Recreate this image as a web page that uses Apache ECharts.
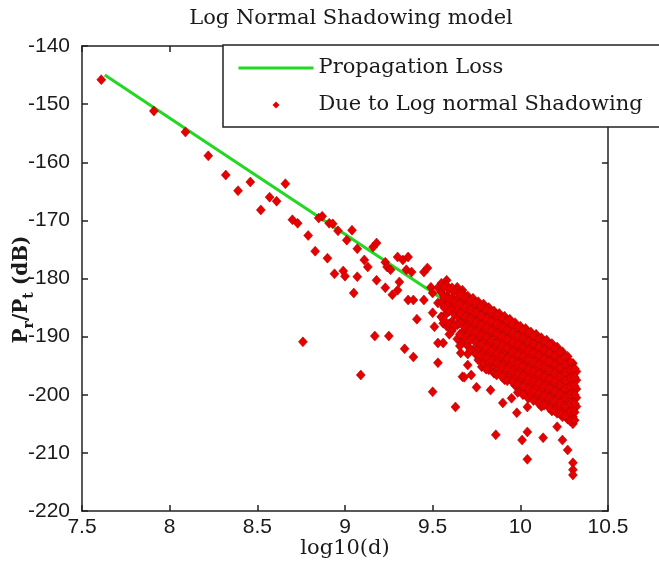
<!DOCTYPE html>
<html>
<head>
<meta charset="utf-8">
<script src="https://cdn.jsdelivr.net/npm/echarts/dist/echarts.min.js"></script>
<style>
  html, body { margin: 0; padding: 0; background: #ffffff; }
  #chart { width: 659px; height: 569px; }
</style>
</head>
<body>
<div id="chart"></div>
<script>
// Log-normal shadowing: received/transmitted power against log10(distance)

const chartTitle = 'Log Normal Shadowing model';
const lossName = 'Propagation Loss';
const shadowName = 'Due to Log normal Shadowing';

// Mean path loss line (log10(d), dB)
const lossX = [7.63, 8.1, 8.5, 9.0, 9.5, 10.0, 10.3];
const lossY = [-145.0, -154.4, -162.4, -172.4, -182.4, -192.4, -198.4];

// Sparse shadowed samples along the line
const sparsePoints = [
  [7.61,-145.8],[7.91,-151.2],[8.09,-154.8],[8.22,-158.9],[8.32,-162.2],[8.39,-164.9],
  [8.46,-163.4],[8.52,-168.2],[8.57,-166.0],[8.61,-166.7],[8.66,-163.7],[8.70,-169.9],
  [8.73,-170.5],[8.79,-172.6],[8.83,-175.3],[8.85,-169.6],[8.87,-169.3],[8.90,-176.5],
  [8.91,-170.5],[8.93,-170.6],[8.94,-179.2],[8.96,-171.8],[8.99,-178.7],[9.00,-179.6],
  [9.01,-173.4],[9.04,-171.7],[9.05,-182.5],[9.07,-174.9],[9.07,-179.7],[9.11,-176.8],
  [9.13,-178.0],[9.16,-174.6],[9.18,-173.9],[9.18,-180.3],[9.23,-177.2],[9.24,-178.0],
  [9.26,-178.5],[9.23,-181.6],[9.27,-182.8],[9.30,-182.0],[9.31,-180.6],[9.30,-176.3],
  [9.33,-176.8],[9.36,-176.3],[9.35,-178.5],[9.38,-178.9],[9.45,-178.9],[9.47,-178.2],
  [9.36,-183.7],[9.39,-183.7],[9.49,-181.5],[9.50,-182.5],[9.53,-181.6],[9.58,-180.3],
  [9.45,-183.7],[9.50,-185.9],[9.41,-187.0],[9.58,-183.7],[9.60,-184.9],[9.62,-185.4],
  [9.55,-186.6],[9.67,-182.0],[9.64,-181.5],[9.53,-191.1],[9.56,-191.1],[9.67,-190.1],
  [9.66,-192.8],[9.67,-196.9],[9.51,-188.3],[9.56,-187.7],[9.53,-184.2]
];

// Deep fades below the line
const fadePoints = [
  [8.76,-190.9],[9.09,-196.6],[9.17,-189.9],[9.25,-189.9],[9.34,-192.1],[9.39,-193.5],
  [9.53,-194.5],[9.50,-199.5],[9.63,-202.1],[9.68,-197.0],[9.75,-198.7],[9.83,-199.2],
  [9.90,-201.4],[9.98,-203.1],[9.86,-206.9],[10.01,-207.8],[10.04,-206.4],[10.13,-207.4],
  [10.04,-211.1],[10.21,-205.5],[10.24,-207.8],[10.27,-209.5],[10.30,-211.7],[10.30,-212.9],
  [10.30,-213.8],[9.70,-194.9],[9.72,-196.6],[9.78,-195.2],[9.82,-195.7],[9.95,-200.6],
  [10.04,-202.1]
];

// Dense cluster at long range: one column of readings per log10(d) value
const clusterX = [9.55, 9.58, 9.61, 9.64, 9.67, 9.70, 9.73, 9.76, 9.79, 9.82, 9.85, 9.88,
  9.91, 9.94, 9.97, 10.00, 10.03, 10.06, 10.09, 10.12, 10.15, 10.18, 10.21, 10.24, 10.27,
  10.30, 10.32];
const clusterY = [
  [-180.8, -182.4, -184.1, -186.6],
  [-181.2, -183.0, -184.8, -186.0, -188.2],
  [-181.6, -183.3, -185.2, -187.4, -189.0],
  [-182.0, -183.6, -185.0, -186.5, -188.0, -190.4],
  [-182.6, -184.2, -185.8, -187.3, -189.2, -191.0],
  [-183.0, -184.6, -186.3, -187.9, -189.5, -191.6, -193.0],
  [-183.4, -185.1, -186.7, -188.4, -190.0, -192.3],
  [-184.0, -185.5, -187.2, -188.8, -190.6, -192.0, -194.0],
  [-184.4, -186.0, -187.6, -189.3, -190.9, -192.6, -194.5],
  [-185.0, -186.5, -188.0, -189.6, -191.3, -193.0, -195.2],
  [-185.6, -187.0, -188.6, -190.2, -191.8, -193.5, -195.0, -196.3],
  [-186.0, -187.6, -189.2, -190.8, -192.4, -194.0, -195.8],
  [-186.5, -188.0, -189.6, -191.2, -192.8, -194.4, -196.2, -197.4],
  [-187.0, -188.5, -190.1, -191.7, -193.3, -195.0, -196.6],
  [-187.6, -189.0, -190.6, -192.2, -193.8, -195.4, -197.0, -198.4],
  [-188.2, -189.6, -191.1, -192.7, -194.3, -195.9, -197.5, -199.0],
  [-188.6, -190.0, -191.6, -193.1, -194.7, -196.3, -197.9, -199.5],
  [-189.2, -190.6, -192.1, -193.6, -195.2, -196.8, -198.4, -200.0],
  [-189.6, -191.0, -192.5, -194.0, -195.6, -197.2, -198.8, -200.4],
  [-190.2, -191.5, -193.0, -194.5, -196.0, -197.6, -199.2, -200.8, -202.0],
  [-190.6, -192.0, -193.4, -195.0, -196.5, -198.0, -199.6, -201.2],
  [-191.2, -192.5, -193.9, -195.4, -196.9, -198.5, -200.0, -201.6, -202.8],
  [-191.8, -193.0, -194.4, -195.9, -197.4, -198.9, -200.5, -202.0, -203.2],
  [-192.6, -193.8, -195.0, -196.4, -197.8, -199.3, -200.9, -202.4, -203.8],
  [-193.4, -194.6, -195.8, -197.0, -198.4, -199.8, -201.3, -202.8, -204.2],
  [-194.6, -195.8, -197.0, -198.3, -199.6, -201.0, -202.4, -203.8, -205.0],
  [-196.0, -197.5, -199.0, -200.5, -202.0]
];

// Second pass of cluster readings, between the columns above
const clusterX2 = [9.565, 9.595, 9.625, 9.655, 9.685, 9.715, 9.745, 9.775, 9.805, 9.835,
  9.865, 9.895, 9.925, 9.955, 9.985, 10.015, 10.045, 10.075, 10.105, 10.135, 10.165,
  10.195, 10.225, 10.255, 10.285, 10.31];
const clusterY2 = [
  [-181.5, -183.2, -185.0, -187.2],
  [-181.9, -183.6, -185.6, -187.8, -189.6],
  [-182.3, -184.1, -186.2, -188.1],
  [-182.7, -184.4, -186.0, -187.7, -189.6, -191.6],
  [-183.3, -185.0, -186.6, -188.4, -190.2],
  [-183.8, -185.4, -187.0, -188.8, -190.6, -192.4],
  [-184.2, -185.9, -187.6, -189.2, -191.0, -193.0],
  [-184.8, -186.4, -188.0, -189.8, -191.4, -193.3],
  [-185.3, -186.9, -188.5, -190.1, -191.9, -193.7, -195.6],
  [-185.8, -187.4, -189.0, -190.7, -192.5, -194.2],
  [-186.3, -187.9, -189.5, -191.1, -192.9, -194.6, -196.6],
  [-186.8, -188.4, -190.0, -191.6, -193.4, -195.1, -196.9],
  [-187.3, -188.9, -190.5, -192.0, -193.8, -195.6, -197.6],
  [-187.9, -189.4, -191.0, -192.6, -194.2, -196.0, -197.8],
  [-188.4, -189.9, -191.5, -193.1, -194.7, -196.4, -198.2, -199.6],
  [-188.9, -190.3, -191.9, -193.5, -195.1, -196.8, -198.6, -200.0],
  [-189.4, -190.8, -192.4, -194.0, -195.6, -197.3, -199.0, -200.6],
  [-189.9, -191.3, -192.9, -194.4, -196.0, -197.7, -199.4, -201.0],
  [-190.4, -191.8, -193.3, -194.8, -196.4, -198.0, -199.8, -201.5],
  [-190.9, -192.3, -193.8, -195.3, -196.9, -198.5, -200.2, -201.8],
  [-191.4, -192.8, -194.3, -195.8, -197.3, -198.9, -200.6, -202.3],
  [-192.0, -193.3, -194.8, -196.3, -197.8, -199.4, -201.1, -202.7],
  [-192.7, -194.0, -195.4, -196.9, -198.3, -199.9, -201.5, -203.2],
  [-193.5, -194.8, -196.2, -197.6, -199.0, -200.4, -202.0, -203.6],
  [-194.4, -195.8, -197.2, -198.6, -200.0, -201.5, -203.0, -204.5],
  [-195.5, -197.0, -198.5, -200.0, -201.5, -203.0, -204.4]
];

const xRange = [7.5, 10.5];
const yRange = [-220, -140];

// Build the point table used by the scatter series
const clusterPoints = [];
clusterX.forEach((x, i) => clusterY[i].forEach(y => clusterPoints.push([x, y])));
clusterX2.forEach((x, i) => clusterY2[i].forEach(y => clusterPoints.push([x, y])));
const shadowData = sparsePoints.concat(fadePoints, clusterPoints);
const lossData = lossX.map((x, i) => [x, lossY[i]]);

const axisColor = '#222222';
const textColor = '#1a1a1a';
const labelFont = 'Liberation Sans';
const serifFont = 'DejaVu Serif';
const lossColor = '#22d822';
const shadowColor = '#e60000';

const boxAxis = (extra) => Object.assign({
  type: 'value',
  axisLine: { show: true, onZero: false, lineStyle: { color: axisColor, width: 1.5 } },
  axisTick: { show: true, inside: true, length: 6, lineStyle: { color: axisColor, width: 1.5 } },
  splitLine: { show: false }
}, extra);

const chart = echarts.init(document.getElementById('chart'), null, { renderer: 'canvas' });

chart.setOption({
  backgroundColor: '#ffffff',
  animation: false,
  title: {
    text: chartTitle,
    left: 346,
    top: 3,
    textAlign: 'center',
    textStyle: { fontFamily: serifFont, fontSize: 21, fontWeight: 'normal', color: textColor }
  },
  legend: {
    orient: 'vertical',
    left: 223,
    top: 45,
    padding: [12, 30, 11, 14],
    itemWidth: 75,
    itemHeight: 14,
    itemGap: 15,
    backgroundColor: '#ffffff',
    borderColor: axisColor,
    borderWidth: 1.5,
    borderRadius: 0,
    selectedMode: false,
    textStyle: { fontFamily: serifFont, fontSize: 21, color: textColor, lineHeight: 22 },
    data: [
      { name: lossName, itemStyle: { color: 'rgba(0,0,0,0)', borderColor: 'rgba(0,0,0,0)', borderWidth: 0 },
        lineStyle: { color: lossColor, width: 3 } },
      { name: shadowName, icon: 'path://M0,0M20,20M10,5L15,10L10,15L5,10Z',
        itemStyle: { color: shadowColor, borderWidth: 0 } }
    ]
  },
  grid: { left: 82, right: 51, top: 46, bottom: 58, containLabel: false, outerBoundsMode: 'none' },
  xAxis: [
    boxAxis({
      position: 'bottom',
      min: xRange[0], max: xRange[1], interval: 0.5,
      name: 'log10(d)',
      nameLocation: 'middle',
      nameGap: 27,
      nameMoveOverlap: false,
      nameTextStyle: { fontFamily: serifFont, fontSize: 21, color: textColor },
      axisLabel: { show: true, margin: 6, fontFamily: labelFont, fontSize: 21, color: textColor,
        showMinLabel: true, showMaxLabel: true, hideOverlap: false }
    }),
    boxAxis({ position: 'top', min: xRange[0], max: xRange[1], interval: 0.5, axisLabel: { show: false } })
  ],
  yAxis: [
    boxAxis({
      position: 'left',
      min: yRange[0], max: yRange[1], interval: 10,
      name: '{b|P}{s|r}{b|/P}{s|t}{b| (dB)}',
      nameLocation: 'middle',
      nameRotate: 90,
      nameGap: 46,
      nameMoveOverlap: false,
      nameTextStyle: {
        padding: [0, 22, 0, 0],
        rich: {
          b: { fontFamily: serifFont, fontSize: 20, fontWeight: 'bold', color: textColor, lineHeight: 28, verticalAlign: 'middle' },
          s: { fontFamily: serifFont, fontSize: 14, fontWeight: 'bold', color: textColor, lineHeight: 14, verticalAlign: 'bottom' }
        }
      },
      axisLabel: { show: true, margin: 12, fontFamily: labelFont, fontSize: 21, color: textColor,
        showMinLabel: true, showMaxLabel: true, hideOverlap: false }
    }),
    boxAxis({ position: 'right', min: yRange[0], max: yRange[1], interval: 10, axisLabel: { show: false } })
  ],
  series: [
    {
      name: lossName,
      type: 'line',
      data: lossData,
      symbol: 'none',
      showSymbol: false,
      lineStyle: { color: lossColor, width: 3 },
      itemStyle: { color: lossColor },
      z: 2
    },
    {
      name: shadowName,
      type: 'scatter',
      data: shadowData,
      symbol: 'diamond',
      symbolSize: [9, 10],
      itemStyle: { color: shadowColor, borderColor: '#a00000', borderWidth: 0.5, opacity: 1 },
      z: 3
    }
  ]
});
</script>
</body>
</html>
